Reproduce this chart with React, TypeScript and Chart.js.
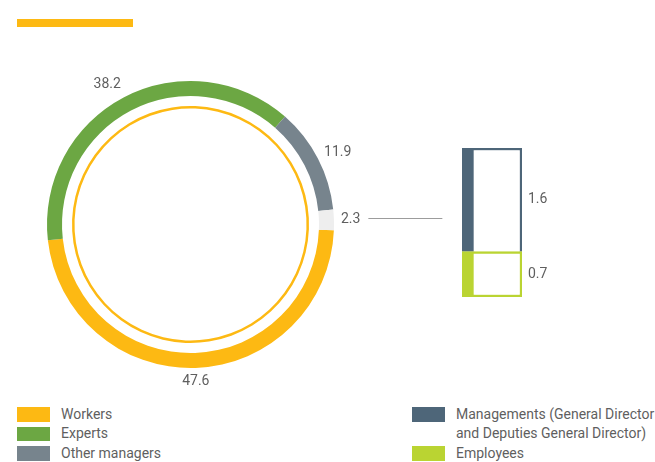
import React, { useEffect, useRef } from "react";
import { Chart, registerables } from "chart.js";

Chart.register(...registerables);

// ---- data ----
const ringLabels = ["Workers", "Experts", "Other managers", "Managements and Employees"];
const ringValues = [47.6, 38.2, 11.9, 2.3];
const ringColors = ["#FDB913", "#6CA743", "#77848D", "#EEEEEE"];

const barLabels = ["Employees", "Managements (General Director and Deputies General Director)"];
const barValues = [0.7, 1.6];
const barColors = ["#BAD432", "#4E6679"];

const legendLeft = ["Workers", "Experts", "Other managers"];
const legendLeftColors = ["#FDB913", "#6CA743", "#77848D"];
const legendRight = ["Managements (General Director\nand Deputies General Director)", "Employees"];
const legendRightColors = ["#4E6679", "#BAD432"];

const TEXT_COLOR = "#5f5f5f";
const FONT = "14px Roboto";

const ringLabelPlugin = {
  id: "ringLabels",
  afterDatasetsDraw(chart: any) {
    const meta = chart.getDatasetMeta(0);
    const ctx = chart.ctx;
    ctx.save();
    ctx.font = FONT;
    ctx.fillStyle = TEXT_COLOR;
    ctx.textBaseline = "middle";
    meta.data.forEach((arc: any, i: number) => {
      const mid = (arc.startAngle + arc.endAngle) / 2;
      const dx = Math.cos(mid);
      const dy = Math.sin(mid);
      const r = arc.outerRadius + 7;
      const text = String(ringValues[i]);
      const w = ctx.measureText(text).width;
      const h = 14;
      const ax = arc.x + dx * r;
      const cy = arc.y + dy * r + dy * h / 2;
      let left: number;
      if (Math.abs(dx) < 0.3) left = ax - w / 2;
      else if (dx < 0) left = ax - w;
      else left = ax;
      ctx.textAlign = "left";
      ctx.fillText(text, left, cy);
      if (i === ringValues.length - 1) {
        ctx.strokeStyle = "#9c9c9c";
        ctx.lineWidth = 1;
        ctx.beginPath();
        const ly = Math.round(cy - 1) + 0.5;
        ctx.moveTo(left + w + 8, ly);
        ctx.lineTo(left + w + 82, ly);
        ctx.stroke();
      }
    });
    ctx.restore();
  },
};

const barLabelPlugin = {
  id: "barLabels",
  afterDatasetsDraw(chart: any) {
    const ctx = chart.ctx;
    ctx.save();
    ctx.font = FONT;
    ctx.fillStyle = TEXT_COLOR;
    ctx.textAlign = "left";
    ctx.textBaseline = "middle";
    chart.data.datasets.forEach((ds: any, di: number) => {
      const meta = chart.getDatasetMeta(di);
      meta.data.forEach((el: any) => {
        const x = el.x + el.width / 2 + 6;
        const y = (el.y + el.base) / 2;
        ctx.fillText(String(ds.data[0]), x, y);
      });
    });
    ctx.restore();
  },
};

function RingChart() {
  const ref = useRef<HTMLCanvasElement>(null);
  useEffect(() => {
    const chart = new Chart(ref.current!, {
      type: "doughnut",
      data: {
        labels: ringLabels,
        datasets: [
          {
            data: ringValues,
            backgroundColor: ringColors,
            borderWidth: 0,
            hoverOffset: 0,
            hoverBorderWidth: 0,
            weight: 15,
          } as any,
          {
            data: [1],
            backgroundColor: ["rgba(0,0,0,0)"],
            borderWidth: 0,
            hoverOffset: 0,
            hoverBorderWidth: 0,
            weight: 10,
          } as any,
          {
            data: [1],
            backgroundColor: ["#FDB913"],
            borderWidth: 0,
            hoverOffset: 0,
            hoverBorderWidth: 0,
            weight: 2.5,
          } as any,
        ],
      },
      options: {
        responsive: false,
        animation: false,
        rotation: 92.3,
        cutout: 116,
        layout: { padding: { left: 47, top: 81, right: 116, bottom: 32 } },
        plugins: { legend: { display: false }, tooltip: { enabled: false } },
        events: [],
      } as any,
      plugins: [ringLabelPlugin],
    });
    return () => chart.destroy();
  }, []);
  return (
    <canvas
      ref={ref}
      width={450}
      height={400}
      style={{ position: "absolute", left: 0, top: 0, width: 450, height: 400 }}
    />
  );
}

function StackChart() {
  const ref = useRef<HTMLCanvasElement>(null);
  useEffect(() => {
    const chart = new Chart(ref.current!, {
      type: "bar",
      data: {
        labels: [""],
        datasets: barValues.map((v, i) => ({
          label: barLabels[i],
          data: [v],
          backgroundColor: "#ffffff",
          borderColor: barColors[i],
          borderWidth: i === 0 ? { left: 12, top: 2.5, right: 2.5, bottom: 2.5 } : { left: 12, top: 2.5, right: 2.5, bottom: 0 },
          borderSkipped: false,
          categoryPercentage: 1,
          barPercentage: 1,
        })),
      },
      options: {
        responsive: false,
        animation: false,
        layout: { padding: { left: 22, right: 58, top: 18, bottom: 23 } },
        scales: {
          x: { stacked: true, display: false },
          y: { stacked: true, display: false, min: 0, max: 2.3 },
        },
        plugins: { legend: { display: false }, tooltip: { enabled: false } },
        events: [],
      } as any,
      plugins: [barLabelPlugin],
    });
    return () => chart.destroy();
  }, []);
  return (
    <canvas
      ref={ref}
      width={140}
      height={190}
      style={{ position: "absolute", left: 440, top: 130, width: 140, height: 190 }}
    />
  );
}

function LegendItem({ x, y, color, text }: { x: number; y: number; color: string; text: string }) {
  return (
    <>
      <div style={{ position: "absolute", left: x, top: y, width: 33, height: 14.5, background: color }} />
      <div
        style={{
          position: "absolute",
          left: x + 44,
          top: y - 2.5,
          font: FONT,
          lineHeight: "19px",
          color: TEXT_COLOR,
          whiteSpace: "pre",
        }}
      >
        {text}
      </div>
    </>
  );
}

export default function App() {
  return (
    <div style={{ position: "absolute", left: 0, top: 0, width: 655, height: 462, background: "#fff", overflow: "hidden" }}>
      <div style={{ position: "absolute", left: 17, top: 19, width: 116, height: 8, background: "#FDB913" }} />
      <RingChart />
      <StackChart />
      {legendLeft.map((t, i) => (
        <LegendItem key={t} x={17} y={407 + i * 19.5} color={legendLeftColors[i]} text={t} />
      ))}
      {legendRight.map((t, i) => (
        <LegendItem key={t} x={412} y={407 + i * 39} color={legendRightColors[i]} text={t} />
      ))}
    </div>
  );
}
